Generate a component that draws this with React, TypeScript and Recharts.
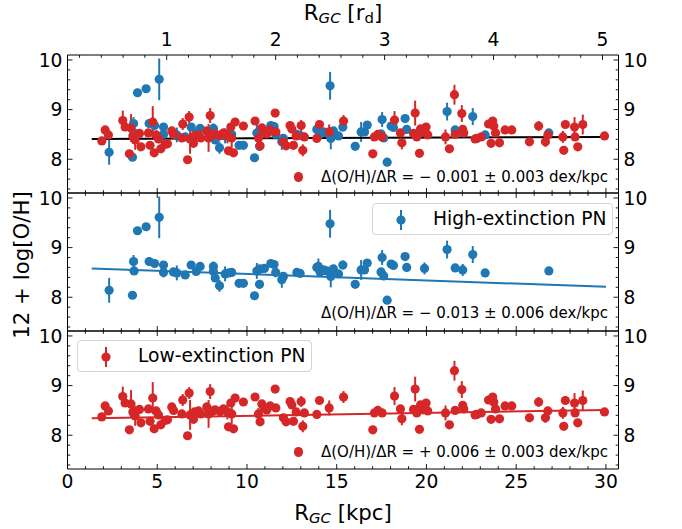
import React from 'react';
import { ScatterChart, Scatter, XAxis, YAxis, ErrorBar, ReferenceLine } from 'recharts';

// high-extinction PNe: [R_GC kpc, 12+log(O/H), error]
const highExt: [number, number, number][] = [
  [2.32, 8.14, 0.25], [3.62, 8.04, 0.04], [3.68, 8.72, 0.13], [3.71, 8.53, 0.05],
  [3.9, 9.34, 0.08], [4.38, 9.42, 0.05], [5.11, 9.61, 0.42], [4.55, 8.72, 0.09],
  [4.85, 8.68, 0.07], [5.35, 8.65, 0.05], [5.35, 8.5, 0.1], [5.9, 8.51, 0.07],
  [6.09, 8.49, 0.15], [6.56, 8.45, 0.05], [6.89, 8.65, 0.05], [7.17, 8.52, 0.05],
  [7.39, 8.62, 0.05], [8.13, 8.62, 0.1], [8.13, 8.52, 0.05], [8.23, 8.39, 0.05],
  [8.47, 8.23, 0.12], [8.78, 8.47, 0.15], [9.0, 8.49, 0.05], [9.15, 8.5, 0.05],
  [9.56, 8.28, 0.05], [9.8, 8.28, 0.05], [10.42, 8.03, 0.05], [10.55, 8.53, 0.16],
  [10.7, 8.26, 0.09], [10.73, 8.57, 0.05], [10.97, 8.58, 0.05], [11.33, 8.68, 0.05],
  [11.51, 8.66, 0.05], [11.6, 8.5, 0.1], [11.94, 8.35, 0.16], [12.03, 8.42, 0.05],
  [12.78, 8.5, 0.05], [12.96, 8.48, 0.05], [13.89, 8.6, 0.05], [13.98, 8.62, 0.16],
  [14.07, 8.51, 0.05], [14.26, 8.55, 0.05], [14.45, 8.53, 0.05], [14.63, 9.48, 0.28],
  [14.67, 8.42, 0.22], [14.82, 8.57, 0.05], [15.1, 8.47, 0.05], [15.34, 8.65, 0.09],
  [16.03, 8.26, 0.05], [16.36, 8.55, 0.2], [16.55, 8.55, 0.05], [16.7, 8.69, 0.05],
  [17.47, 8.51, 0.05], [17.53, 8.8, 0.15], [17.62, 8.43, 0.08], [17.81, 7.94, 0.05],
  [18.03, 8.67, 0.05], [18.16, 8.64, 0.05], [18.81, 8.82, 0.06], [18.9, 8.6, 0.06],
  [19.89, 8.58, 0.12], [21.15, 8.96, 0.18], [21.6, 8.59, 0.05], [22.02, 8.55, 0.12],
  [22.58, 8.86, 0.17], [23.27, 8.49, 0.05], [26.82, 8.53, 0.06],
];

// low-extinction PNe: [R_GC kpc, 12+log(O/H), error]
const lowExt: [number, number, number][] = [
  [1.91, 8.37, 0.08], [2.1, 8.59, 0.05], [2.28, 8.49, 0.05], [3.08, 8.78, 0.2],
  [3.21, 8.65, 0.06], [3.45, 8.11, 0.05], [3.54, 8.63, 0.28], [3.64, 8.47, 0.05],
  [3.77, 8.39, 0.2], [4.01, 8.52, 0.05], [4.09, 8.25, 0.05], [4.51, 8.53, 0.08],
  [4.6, 8.28, 0.05], [4.75, 8.75, 0.32], [4.83, 8.13, 0.05], [4.94, 8.49, 0.08],
  [5.07, 8.41, 0.06], [5.2, 8.21, 0.05], [5.44, 8.3, 0.05], [5.57, 8.31, 0.05],
  [5.81, 8.57, 0.05], [5.91, 8.5, 0.05], [6.37, 8.43, 0.05], [6.42, 8.71, 0.12],
  [6.69, 7.99, 0.05], [6.78, 8.85, 0.12], [6.83, 8.41, 0.3], [7.02, 8.32, 0.08],
  [7.08, 8.47, 0.05], [7.3, 8.49, 0.05], [7.43, 8.43, 0.08], [7.76, 8.57, 0.05],
  [7.86, 8.43, 0.28], [7.95, 8.88, 0.15], [8.1, 8.49, 0.1], [8.23, 8.51, 0.05],
  [8.5, 8.48, 0.1], [8.69, 8.53, 0.05], [8.91, 8.47, 0.15], [8.97, 8.17, 0.05],
  [9.1, 8.65, 0.08], [9.15, 8.43, 0.2], [9.25, 8.13, 0.05], [9.34, 8.75, 0.06],
  [9.8, 8.67, 0.07], [10.45, 8.77, 0.05], [10.64, 8.43, 0.12], [10.73, 8.27, 0.07],
  [10.83, 8.63, 0.05], [10.96, 8.55, 0.05], [11.1, 8.51, 0.05], [11.29, 8.59, 0.05],
  [11.57, 8.93, 0.05], [11.61, 8.55, 0.05], [12.03, 8.35, 0.05], [12.18, 8.27, 0.05],
  [12.4, 8.68, 0.07], [12.5, 8.61, 0.05], [12.59, 8.28, 0.05], [12.74, 8.47, 0.05],
  [13.02, 8.68, 0.11], [13.11, 8.18, 0.12], [13.2, 8.45, 0.05], [13.89, 8.42, 0.05],
  [14.04, 8.7, 0.05], [14.58, 8.55, 0.15], [15.38, 8.77, 0.12], [17.01, 8.11, 0.05],
  [17.1, 8.45, 0.05], [17.29, 8.5, 0.05], [17.53, 8.45, 0.05], [18.22, 8.79, 0.18],
  [18.55, 8.53, 0.07], [18.63, 8.33, 0.13], [19.28, 8.52, 0.05], [19.37, 8.93, 0.25],
  [19.46, 8.45, 0.05], [19.61, 8.12, 0.05], [19.67, 8.61, 0.06], [19.8, 8.55, 0.13],
  [19.98, 8.65, 0.06], [20.07, 8.49, 0.05], [21.06, 8.45, 0.15], [21.28, 8.21, 0.05],
  [21.56, 9.3, 0.2], [21.6, 8.5, 0.05], [21.97, 8.92, 0.17], [22.02, 8.6, 0.05],
  [22.08, 8.53, 0.06], [22.71, 8.41, 0.05], [22.81, 8.42, 0.05], [23.05, 8.45, 0.05],
  [23.46, 8.71, 0.05], [23.6, 8.32, 0.08], [23.69, 8.77, 0.05], [23.75, 8.67, 0.05],
  [23.85, 8.53, 0.05], [24.07, 8.33, 0.05], [24.38, 8.59, 0.05], [24.75, 8.59, 0.05],
  [25.74, 8.35, 0.05], [26.25, 8.67, 0.1], [26.63, 8.35, 0.1], [26.76, 8.49, 0.05],
  [27.6, 8.45, 0.12], [27.65, 8.18, 0.05], [27.74, 8.7, 0.05], [28.25, 8.65, 0.2],
  [28.28, 8.45, 0.05], [28.43, 8.25, 0.05], [28.71, 8.7, 0.2], [29.92, 8.47, 0.05],
];

// linear fits, start and end [R, O/H]
const fitAll = [[1.35, 8.41], [30, 8.45]];
const fitHigh = [[1.35, 8.58], [30, 8.21]];
const fitLow = [[1.35, 8.34], [30, 8.51]];

const slopeTexts = [
  'Δ(O/H)/ΔR = − 0.001 ± 0.003 dex/kpc',
  'Δ(O/H)/ΔR = − 0.013 ± 0.006 dex/kpc',
  'Δ(O/H)/ΔR = + 0.006 ± 0.003 dex/kpc',
];

const kpcTicks = Array.from({ length: 31 }, (_, i) => i);
const rdTicks = Array.from({ length: 25 }, (_, i) => (i + 1) / 5);
const ohTicks = Array.from({ length: 14 }, (_, i) => (i + 37) / 5);

const BLUE = '#1f77b4';
const RED = '#d62728';
const FONT = 'DejaVu Sans';
const FS = 18.7;

const X_DOMAIN = [0, 30.7];
const RD_DOMAIN = [0.0895, 5.147];
const Y_DOMAIN = [7.32, 10.1];
const PANEL_H = 138;

const isMult = (v: number, step: number) => Math.abs(v / step - Math.round(v / step)) < 1e-6;

const xTick = (side: 'top' | 'bottom', step: number, showLabel: boolean) => (p: any) => {
  const v = p.payload.value;
  const major = isMult(v, step);
  const len = major ? 5 : 2.8;
  const dir = side === 'bottom' ? -1 : 1;
  return (
    <g>
      <line x1={p.x} x2={p.x} y1={p.y} y2={p.y + dir * len} stroke="#000" strokeWidth={0.9} />
      {showLabel && major && (
        <text x={p.x} y={side === 'bottom' ? p.y + 19 : p.y - 9} textAnchor="middle"
          fontFamily={FONT} fontSize={FS} fill="#000">{Math.round(v)}</text>
      )}
    </g>
  );
};

const yTick = (side: 'left' | 'right') => (p: any) => {
  const v = p.payload.value;
  const major = isMult(v, 1);
  const len = major ? 5 : 2.8;
  const dir = side === 'left' ? 1 : -1;
  return (
    <g>
      <line x1={p.x} x2={p.x + dir * len} y1={p.y} y2={p.y} stroke="#000" strokeWidth={0.9} />
      {major && (
        <text x={side === 'left' ? p.x - 5 : p.x + 5} y={p.y + 6.8}
          textAnchor={side === 'left' ? 'end' : 'start'}
          fontFamily={FONT} fontSize={FS} fill="#000">{Math.round(v)}</text>
      )}
    </g>
  );
};

const toRows = (arr: [number, number, number][]) => arr.map(([r, oh, err]) => ({ r, oh, err }));

type Series = { rows: [number, number, number][]; color: string };

function Panel({ top, series, fit, fitColor, firstPanel, lastPanel }: {
  top: number; series: Series[]; fit: number[][]; fitColor: string; firstPanel: boolean; lastPanel: boolean;
}) {
  const bottom = top + PANEL_H;
  return (
    <div style={{ position: 'absolute', left: 0, top: 0 }}>
      <ScatterChart width={682} height={529}
        margin={{ top: top - 20, right: 43.5, bottom: 509 - bottom, left: 47.5 }}>
        <XAxis xAxisId="b" type="number" dataKey="r" domain={X_DOMAIN} allowDataOverflow
          ticks={kpcTicks} interval={0} height={20} tickSize={0} tickMargin={0} tickLine={false}
          axisLine={{ stroke: '#000', strokeWidth: 1 }} tick={xTick('bottom', 5, lastPanel)} />
        <XAxis xAxisId="t" orientation="top" type="number" dataKey="r"
          domain={firstPanel ? RD_DOMAIN : X_DOMAIN} allowDataOverflow
          ticks={firstPanel ? rdTicks : kpcTicks} interval={0} height={20} tickSize={0} tickMargin={0}
          tickLine={false} axisLine={{ stroke: '#000', strokeWidth: 1 }}
          tick={firstPanel ? xTick('top', 1, true) : xTick('top', 5, false)} />
        <YAxis yAxisId="l" type="number" dataKey="oh" domain={Y_DOMAIN} allowDataOverflow
          ticks={ohTicks} interval={0} width={20} tickSize={0} tickMargin={0} tickLine={false}
          axisLine={{ stroke: '#000', strokeWidth: 1 }} tick={yTick('left')} />
        <YAxis yAxisId="r" orientation="right" type="number" dataKey="oh" domain={Y_DOMAIN} allowDataOverflow
          ticks={ohTicks} interval={0} width={20} tickSize={0} tickMargin={0} tickLine={false}
          axisLine={{ stroke: '#000', strokeWidth: 1 }} tick={yTick('right')} />
        {series.map((s, i) => (
          <Scatter key={i} xAxisId="b" yAxisId="l" data={toRows(s.rows)} fill={s.color}
            isAnimationActive={false}
            shape={(p: any) => <circle cx={p.cx} cy={p.cy} r={4.6} fill={s.color} />}>
            <ErrorBar dataKey="err" direction="y" width={0} stroke={s.color} strokeWidth={2}
              isAnimationActive={false} />
          </Scatter>
        ))}
        <ReferenceLine xAxisId="b" yAxisId="l" stroke={fitColor} strokeWidth={2}
          segment={[{ x: fit[0][0], y: fit[0][1] }, { x: fit[1][0], y: fit[1][1] }]} />
      </ScatterChart>
    </div>
  );
}

const LegendBox = ({ left, top, width, color, label }: any) => (
  <div style={{
    position: 'absolute', left, top, width, height: 32, boxSizing: 'border-box',
    border: '1px solid #d5d5d5', borderRadius: 4, background: 'rgba(255,255,255,0.8)',
  }}>
    <svg width={14} height={24} style={{ position: 'absolute', left: 21, top: 4 }}>
      <line x1={7} x2={7} y1={2} y2={22} stroke={color} strokeWidth={2} />
      <circle cx={7} cy={12} r={4.6} fill={color} />
    </svg>
    <div style={{
      position: 'absolute', left: 60, top: 6, fontFamily: FONT, fontSize: FS,
      lineHeight: `${FS}px`, whiteSpace: 'nowrap', color: '#000',
    }}>{label}</div>
  </div>
);

const SlopeNote = ({ cy, text, dot }: { cy: number; text: string; dot: boolean }) => (
  <>
    {dot && (
      <div style={{
        position: 'absolute', left: 298.3 - 4.6, top: cy - 4.6, width: 9.2, height: 9.2,
        borderRadius: '50%', background: RED,
      }} />
    )}
    <div style={{
      position: 'absolute', left: 321, top: cy - 7.5, fontFamily: FONT, fontSize: 15,
      lineHeight: '15px', whiteSpace: 'nowrap', color: '#000',
    }}>{text}</div>
  </>
);

export default function App() {
  return (
    <div style={{ position: 'absolute', left: 0, top: 0, width: 682, height: 529, background: '#fff' }}>
      <Panel top={55} firstPanel lastPanel={false} fit={fitAll} fitColor="#000"
        series={[{ rows: highExt, color: BLUE }, { rows: lowExt, color: RED }]} />
      <Panel top={55 + PANEL_H} firstPanel={false} lastPanel={false} fit={fitHigh} fitColor={BLUE}
        series={[{ rows: highExt, color: BLUE }]} />
      <Panel top={55 + 2 * PANEL_H} firstPanel={false} lastPanel fit={fitLow} fitColor={RED}
        series={[{ rows: lowExt, color: RED }]} />

      <LegendBox left={372} top={203} width={241} color={BLUE} label="High-extinction PN" />
      <LegendBox left={77} top={340} width={235} color={RED} label="Low-extinction PN" />

      <SlopeNote cy={177} text={slopeTexts[0]} dot />
      <SlopeNote cy={313} text={slopeTexts[1]} dot={false} />
      <SlopeNote cy={452} text={slopeTexts[2]} dot />

      <div style={{
        position: 'absolute', left: 343, top: 14, transform: 'translate(-50%, -50%)',
        fontFamily: FONT, fontSize: 21.3, whiteSpace: 'nowrap', lineHeight: 1,
      }}>
        R<sub style={{ fontStyle: 'italic', fontSize: '0.7em', verticalAlign: '-0.2em' }}>GC</sub>{' '}
        [r<sub style={{ fontSize: '0.7em', verticalAlign: '-0.2em' }}>d</sub>]
      </div>
      <div style={{
        position: 'absolute', left: 343, top: 514, transform: 'translate(-50%, -50%)',
        fontFamily: FONT, fontSize: 21.3, whiteSpace: 'nowrap', lineHeight: 1,
      }}>
        R<sub style={{ fontStyle: 'italic', fontSize: '0.7em', verticalAlign: '-0.2em' }}>GC</sub> [kpc]
      </div>
      <div style={{
        position: 'absolute', left: 22, top: 265, transform: 'translate(-50%, -50%) rotate(-90deg)',
        fontFamily: FONT, fontSize: 21.3, whiteSpace: 'nowrap', lineHeight: 1,
      }}>
        12 + log[O/H]
      </div>
    </div>
  );
}
